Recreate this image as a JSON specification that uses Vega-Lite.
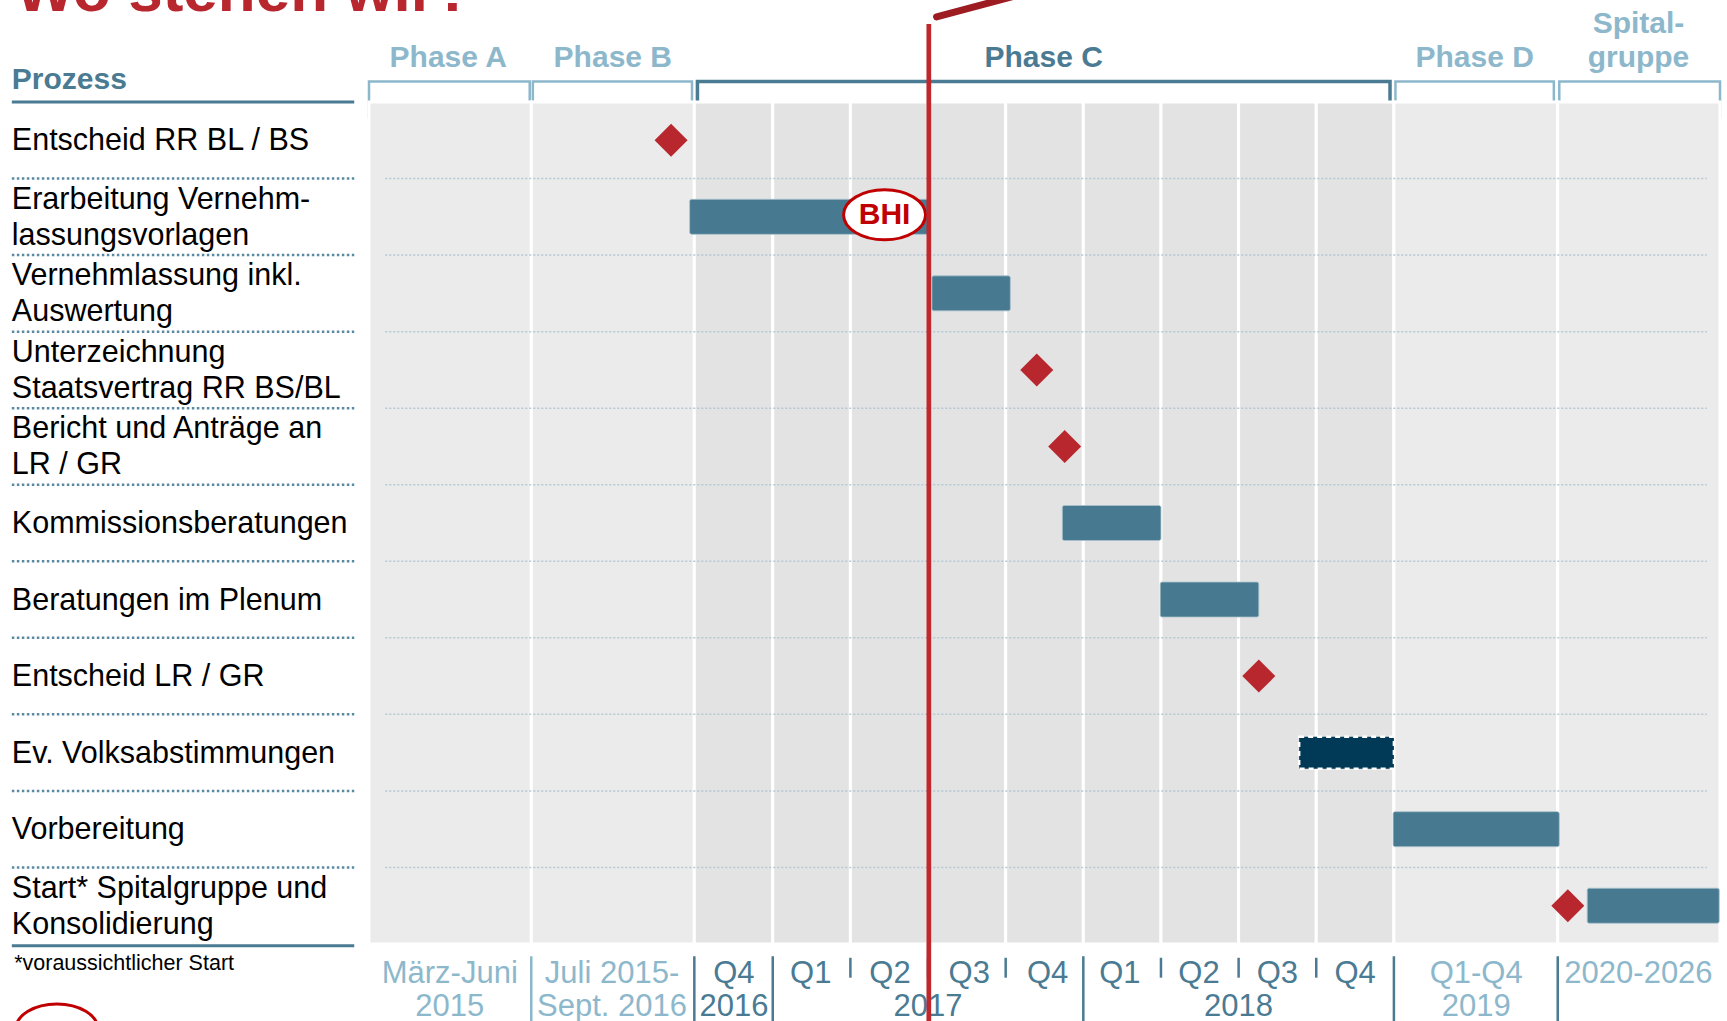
{
  "$schema": "https://vega.github.io/schema/vega-lite/v6.json",
  "width": 1351,
  "height": 842,
  "autosize": {"type": "none"},
  "padding": {"left": 369, "top": 102, "right": 7, "bottom": 77},
  "background": "white",
  "config": {"view": {"stroke": null}, "font": "Liberation Sans"},
  "datasets": {
    "labels": [
      {"row": 0, "task": "Entscheid RR BL / BS"},
      {"row": 1, "task": "Erarbeitung Vernehm-\nlassungsvorlagen"},
      {"row": 2, "task": "Vernehmlassung inkl.\nAuswertung"},
      {"row": 3, "task": "Unterzeichnung\nStaatsvertrag RR BS/BL"},
      {"row": 4, "task": "Bericht und Anträge an\nLR / GR"},
      {"row": 5, "task": "Kommissionsberatungen"},
      {"row": 6, "task": "Beratungen im Plenum"},
      {"row": 7, "task": "Entscheid LR / GR"},
      {"row": 8, "task": "Ev. Volksabstimmungen"},
      {"row": 9, "task": "Vorbereitung"},
      {"row": 10, "task": "Start* Spitalgruppe und\nKonsolidierung"}
    ],
    "items": [
      {"row": 0, "type": "milestone", "start": 3.89},
      {"row": 1, "type": "bar", "start": 4.13, "end": 7.2},
      {"row": 2, "type": "bar", "start": 7.25, "end": 8.26},
      {"row": 3, "type": "milestone", "start": 8.6},
      {"row": 4, "type": "milestone", "start": 8.96},
      {"row": 5, "type": "bar", "start": 8.93, "end": 10.2},
      {"row": 6, "type": "bar", "start": 10.19, "end": 11.46},
      {"row": 7, "type": "milestone", "start": 11.46},
      {"row": 8, "type": "vote", "start": 11.98, "end": 13.2},
      {"row": 9, "type": "bar", "start": 13.19, "end": 15.33},
      {"row": 10, "type": "milestone", "start": 15.44},
      {"row": 10, "type": "bar", "start": 15.69, "end": 17.39}
    ],
    "columns": [
      {"col": "Phase A", "start": 0, "end": 2.09, "shade": "light"},
      {"col": "Phase B", "start": 2.09, "end": 4.19, "shade": "light"},
      {"col": "Q4 2016", "start": 4.19, "end": 5.2, "shade": "dark"},
      {"col": "Q1 2017", "start": 5.2, "end": 6.2, "shade": "dark"},
      {"col": "Q2 2017", "start": 6.2, "end": 7.2, "shade": "dark"},
      {"col": "Q3 2017", "start": 7.2, "end": 8.2, "shade": "dark"},
      {"col": "Q4 2017", "start": 8.2, "end": 9.2, "shade": "dark"},
      {"col": "Q1 2018", "start": 9.2, "end": 10.2, "shade": "dark"},
      {"col": "Q2 2018", "start": 10.2, "end": 11.2, "shade": "dark"},
      {"col": "Q3 2018", "start": 11.2, "end": 12.2, "shade": "dark"},
      {"col": "Q4 2018", "start": 12.2, "end": 13.2, "shade": "dark"},
      {"col": "2019", "start": 13.2, "end": 15.31, "shade": "light"},
      {"col": "2020-2026", "start": 15.31, "end": 17.4, "shade": "light"}
    ],
    "brackets": [
      {"phase": "Phase A", "start": 0.0, "end": 2.07, "grp": "outer"},
      {"phase": "Phase B", "start": 2.11, "end": 4.16, "grp": "outer"},
      {"phase": "Phase C", "start": 4.23, "end": 13.15, "grp": "core"},
      {"phase": "Phase D", "start": 13.22, "end": 15.26, "grp": "outer"},
      {"phase": "Spitalgruppe", "start": 15.33, "end": 17.4, "grp": "outer"}
    ],
    "phases": [
      {"phase": "Phase A", "x": 1.02, "grp": "outer", "lines": 1},
      {"phase": "Phase B", "x": 3.14, "grp": "outer", "lines": 1},
      {"phase": "Phase C", "x": 8.69, "grp": "core", "lines": 1},
      {"phase": "Phase D", "x": 14.24, "grp": "outer", "lines": 1},
      {"phase": "Spital-\ngruppe", "x": 16.35, "grp": "outer", "lines": 2}
    ],
    "ticks": [
      {"x": 1.04, "label": "März-Juni\n2015", "grp": "outer"},
      {"x": 3.13, "label": "Juli 2015-\nSept. 2016", "grp": "outer"},
      {"x": 4.7, "label": "Q4\n2016", "grp": "core"},
      {"x": 5.69, "label": "Q1", "grp": "core"},
      {"x": 6.71, "label": "Q2", "grp": "core"},
      {"x": 7.2, "label": "\n2017", "grp": "core"},
      {"x": 7.73, "label": "Q3", "grp": "core"},
      {"x": 8.74, "label": "Q4", "grp": "core"},
      {"x": 9.67, "label": "Q1", "grp": "core"},
      {"x": 10.69, "label": "Q2", "grp": "core"},
      {"x": 11.2, "label": "\n2018", "grp": "core"},
      {"x": 11.7, "label": "Q3", "grp": "core"},
      {"x": 12.7, "label": "Q4", "grp": "core"},
      {"x": 14.26, "label": "Q1-Q4\n2019", "grp": "outer"},
      {"x": 16.35, "label": "2020-2026", "grp": "outer"}
    ],
    "seps": [
      {"x": 2.09, "len": "full", "grp": "outer"},
      {"x": 4.19, "len": "full", "grp": "core"},
      {"x": 5.2, "len": "full", "grp": "core"},
      {"x": 9.2, "len": "full", "grp": "core"},
      {"x": 13.2, "len": "full", "grp": "core"},
      {"x": 15.31, "len": "full", "grp": "core"},
      {"x": 6.2, "len": "short", "grp": "core"},
      {"x": 7.2, "len": "short", "grp": "core"},
      {"x": 8.2, "len": "short", "grp": "core"},
      {"x": 10.2, "len": "short", "grp": "core"},
      {"x": 11.2, "len": "short", "grp": "core"},
      {"x": 12.2, "len": "short", "grp": "core"}
    ],
    "today": [{"x": 7.21}],
    "notes": [{"row": 1, "x": 6.64, "label": "BHI"}]
  },
  "layer": [
    {
      "data": {"name": "brackets"},
      "mark": {"type": "rect", "filled": false},
      "encoding": {
        "x": {"field": "start", "type": "quantitative", "scale": {"domain": [0, 17.4], "nice": false, "zero": false}, "axis": null},
        "x2": {"field": "end"},
        "y": {"datum": -0.768, "type": "quantitative", "scale": {"domain": [-0.5, 10.5], "nice": false, "zero": false, "reverse": true, "padding": 0}, "axis": null},
        "y2": {"datum": -0.3},
        "color": {"field": "grp", "type": "nominal", "scale": {"domain": ["outer", "core"], "range": ["#8db8cc", "#4a7b93"]}, "legend": null},
        "strokeWidth": {"condition": {"test": "datum.grp === 'core'", "value": 3.5}, "value": 2.5}
      }
    },
    {
      "data": {"name": "columns"},
      "mark": {"type": "rect", "stroke": "white", "strokeWidth": 3},
      "encoding": {
        "x": {"field": "start", "type": "quantitative", "scale": {"domain": [0, 17.4], "nice": false, "zero": false}, "axis": null},
        "x2": {"field": "end"},
        "y": {"datum": -0.5, "type": "quantitative", "scale": {"domain": [-0.5, 10.5], "nice": false, "zero": false, "reverse": true, "padding": 0}, "axis": null},
        "y2": {"datum": 10.5},
        "fill": {"field": "shade", "type": "nominal", "scale": {"domain": ["light", "dark"], "range": ["#ebebeb", "#e3e3e3"]}, "legend": null}
      }
    },
    {
      "data": {"name": "labels"},
      "transform": [{"filter": "datum.row < 10"}],
      "mark": {"type": "rule", "strokeDash": [2, 2], "color": "#b3c8d3", "strokeWidth": 1.5, "yOffset": 38.27},
      "encoding": {
        "x": {"datum": 0.21, "type": "quantitative", "scale": {"domain": [0, 17.4], "nice": false, "zero": false}, "axis": null},
        "x2": {"datum": 17.23},
        "y": {"field": "row", "type": "quantitative", "scale": {"domain": [-0.5, 10.5], "nice": false, "zero": false, "reverse": true, "padding": 0}, "axis": null}
      }
    },
    {
      "data": {"name": "labels"},
      "transform": [{"filter": "datum.row < 10"}],
      "mark": {"type": "rule", "strokeDash": [2.5, 2.5], "color": "#5a8aa1", "strokeWidth": 2.5, "yOffset": 38.27},
      "encoding": {
        "x": {"datum": -4.6, "type": "quantitative", "scale": {"domain": [0, 17.4], "nice": false, "zero": false}, "axis": null},
        "x2": {"datum": -0.19},
        "y": {"field": "row", "type": "quantitative", "scale": {"domain": [-0.5, 10.5], "nice": false, "zero": false, "reverse": true, "padding": 0}, "axis": null}
      }
    },
    {
      "data": {"name": "labels"},
      "transform": [{"filter": "datum.row == 0"}],
      "mark": {"type": "rule", "color": "#4a7b93", "strokeWidth": 3, "yOffset": -38.27},
      "encoding": {
        "x": {"datum": -4.6, "type": "quantitative", "scale": {"domain": [0, 17.4], "nice": false, "zero": false}, "axis": null},
        "x2": {"datum": -0.19},
        "y": {"field": "row", "type": "quantitative", "scale": {"domain": [-0.5, 10.5], "nice": false, "zero": false, "reverse": true, "padding": 0}, "axis": null}
      }
    },
    {
      "data": {"name": "labels"},
      "transform": [{"filter": "datum.row == 10"}],
      "mark": {"type": "rule", "color": "#4a7b93", "strokeWidth": 3, "yOffset": 40},
      "encoding": {
        "x": {"datum": -4.6, "type": "quantitative", "scale": {"domain": [0, 17.4], "nice": false, "zero": false}, "axis": null},
        "x2": {"datum": -0.19},
        "y": {"field": "row", "type": "quantitative", "scale": {"domain": [-0.5, 10.5], "nice": false, "zero": false, "reverse": true, "padding": 0}, "axis": null}
      }
    },
    {
      "data": {"name": "items"},
      "transform": [{"filter": "datum.type === 'bar'"}],
      "mark": {"type": "bar", "orient": "horizontal", "height": 35, "color": "#477a91", "cornerRadius": 2, "stroke": "#a9c1cd", "strokeWidth": 0.8},
      "encoding": {
        "x": {"field": "start", "type": "quantitative", "scale": {"domain": [0, 17.4], "nice": false, "zero": false}, "axis": null},
        "x2": {"field": "end"},
        "y": {"field": "row", "type": "quantitative", "scale": {"domain": [-0.5, 10.5], "nice": false, "zero": false, "reverse": true, "padding": 0}, "axis": null}
      }
    },
    {
      "data": {"name": "items"},
      "transform": [{"filter": "datum.type === 'vote'"}],
      "mark": {"type": "bar", "orient": "horizontal", "height": 32, "fill": "#003a57", "stroke": "white", "strokeWidth": 2.5, "strokeDash": [5, 4]},
      "encoding": {
        "x": {"field": "start", "type": "quantitative", "scale": {"domain": [0, 17.4], "nice": false, "zero": false}, "axis": null},
        "x2": {"field": "end"},
        "y": {"field": "row", "type": "quantitative", "scale": {"domain": [-0.5, 10.5], "nice": false, "zero": false, "reverse": true, "padding": 0}, "axis": null}
      }
    },
    {
      "data": {"name": "items"},
      "transform": [{"filter": "datum.type === 'milestone'"}],
      "mark": {"type": "point", "shape": "diamond", "size": 1089, "filled": true, "color": "#b8262e", "opacity": 1},
      "encoding": {
        "x": {"field": "start", "type": "quantitative", "scale": {"domain": [0, 17.4], "nice": false, "zero": false}, "axis": null},
        "y": {"field": "row", "type": "quantitative", "scale": {"domain": [-0.5, 10.5], "nice": false, "zero": false, "reverse": true, "padding": 0}, "axis": null}
      }
    },
    {
      "data": {"name": "notes"},
      "mark": {"type": "point", "shape": "M-1,0A1,0.61,0,1,1,1,0A1,0.61,0,1,1,-1,0Z", "size": 6724, "filled": true, "fill": "white", "stroke": "#c00000", "strokeWidth": 3, "opacity": 1, "yOffset": -2},
      "encoding": {
        "x": {"field": "x", "type": "quantitative", "scale": {"domain": [0, 17.4], "nice": false, "zero": false}, "axis": null},
        "y": {"field": "row", "type": "quantitative", "scale": {"domain": [-0.5, 10.5], "nice": false, "zero": false, "reverse": true, "padding": 0}, "axis": null}
      }
    },
    {
      "data": {"name": "notes"},
      "mark": {"type": "text", "font": "Liberation Sans", "fontWeight": "bold", "fontSize": 30, "color": "#c00000", "align": "center", "baseline": "middle", "yOffset": -2},
      "encoding": {
        "x": {"field": "x", "type": "quantitative", "scale": {"domain": [0, 17.4], "nice": false, "zero": false}, "axis": null},
        "y": {"field": "row", "type": "quantitative", "scale": {"domain": [-0.5, 10.5], "nice": false, "zero": false, "reverse": true, "padding": 0}, "axis": null},
        "text": {"field": "label", "type": "nominal"}
      }
    },
    {
      "data": {"values": [{}]},
      "mark": {"type": "point", "shape": "M-1,0A1,0.61,0,1,1,1,0A1,0.61,0,1,1,-1,0Z", "size": 6724, "filled": true, "fill": "white", "stroke": "#c00000", "strokeWidth": 3, "opacity": 1},
      "encoding": {
        "x": {"datum": -4.02, "type": "quantitative", "scale": {"domain": [0, 17.4], "nice": false, "zero": false}, "axis": null},
        "y": {"datum": 11.61, "type": "quantitative", "scale": {"domain": [-0.5, 10.5], "nice": false, "zero": false, "reverse": true, "padding": 0}, "axis": null}
      }
    },
    {
      "data": {"name": "labels"},
      "transform": [{"filter": "indexof(datum.task, '\\n') < 0"}],
      "mark": {"type": "text", "font": "Liberation Sans", "fontSize": 30.5, "color": "#000000", "align": "left", "baseline": "middle", "dy": 1},
      "encoding": {
        "x": {"datum": -4.6, "type": "quantitative", "scale": {"domain": [0, 17.4], "nice": false, "zero": false}, "axis": null},
        "y": {"field": "row", "type": "quantitative", "scale": {"domain": [-0.5, 10.5], "nice": false, "zero": false, "reverse": true, "padding": 0}, "axis": null},
        "text": {"field": "task", "type": "nominal"}
      }
    },
    {
      "data": {"name": "labels"},
      "transform": [{"filter": "indexof(datum.task, '\\n') >= 0"}],
      "mark": {"type": "text", "font": "Liberation Sans", "fontSize": 30.5, "color": "#000000", "align": "left", "baseline": "middle", "lineBreak": "\n", "lineHeight": 36, "dy": -17},
      "encoding": {
        "x": {"datum": -4.6, "type": "quantitative", "scale": {"domain": [0, 17.4], "nice": false, "zero": false}, "axis": null},
        "y": {"field": "row", "type": "quantitative", "scale": {"domain": [-0.5, 10.5], "nice": false, "zero": false, "reverse": true, "padding": 0}, "axis": null},
        "text": {"field": "task", "type": "nominal"}
      }
    },
    {
      "data": {"values": [{}]},
      "mark": {"type": "text", "font": "Liberation Sans", "fontSize": 30, "fontWeight": "bold", "color": "#4a7b93", "align": "left", "baseline": "alphabetic"},
      "encoding": {
        "x": {"datum": -4.6, "type": "quantitative", "scale": {"domain": [0, 17.4], "nice": false, "zero": false}, "axis": null},
        "y": {"datum": -0.67, "type": "quantitative", "scale": {"domain": [-0.5, 10.5], "nice": false, "zero": false, "reverse": true, "padding": 0}, "axis": null},
        "text": {"value": "Prozess"}
      }
    },
    {
      "data": {"name": "phases"},
      "transform": [{"filter": "datum.lines == 1"}],
      "mark": {"type": "text", "font": "Liberation Sans", "fontSize": 30, "fontWeight": "bold", "align": "center", "baseline": "bottom"},
      "encoding": {
        "x": {"field": "x", "type": "quantitative", "scale": {"domain": [0, 17.4], "nice": false, "zero": false}, "axis": null},
        "y": {"datum": -0.883, "type": "quantitative", "scale": {"domain": [-0.5, 10.5], "nice": false, "zero": false, "reverse": true, "padding": 0}, "axis": null},
        "text": {"field": "phase", "type": "nominal"},
        "color": {"field": "grp", "type": "nominal", "scale": {"domain": ["outer", "core"], "range": ["#8db8cc", "#4a7b93"]}, "legend": null}
      }
    },
    {
      "data": {"name": "phases"},
      "transform": [{"filter": "datum.lines == 2"}],
      "mark": {"type": "text", "font": "Liberation Sans", "fontSize": 30, "fontWeight": "bold", "align": "center", "baseline": "bottom", "lineBreak": "\n", "lineHeight": 34, "dy": -34},
      "encoding": {
        "x": {"field": "x", "type": "quantitative", "scale": {"domain": [0, 17.4], "nice": false, "zero": false}, "axis": null},
        "y": {"datum": -0.883, "type": "quantitative", "scale": {"domain": [-0.5, 10.5], "nice": false, "zero": false, "reverse": true, "padding": 0}, "axis": null},
        "text": {"field": "phase", "type": "nominal"},
        "color": {"field": "grp", "type": "nominal", "scale": {"domain": ["outer", "core"], "range": ["#8db8cc", "#4a7b93"]}, "legend": null}
      }
    },
    {
      "data": {"name": "ticks"},
      "mark": {"type": "text", "font": "Liberation Sans", "fontSize": 31, "align": "center", "baseline": "alphabetic", "lineBreak": "\n", "lineHeight": 33},
      "encoding": {
        "x": {"field": "x", "type": "quantitative", "scale": {"domain": [0, 17.4], "nice": false, "zero": false}, "axis": null},
        "y": {"datum": 11.01, "type": "quantitative", "scale": {"domain": [-0.5, 10.5], "nice": false, "zero": false, "reverse": true, "padding": 0}, "axis": null},
        "text": {"field": "label", "type": "nominal"},
        "color": {"field": "grp", "type": "nominal", "scale": {"domain": ["outer", "core"], "range": ["#8db8cc", "#4a7b93"]}, "legend": null}
      }
    },
    {
      "data": {"name": "seps"},
      "transform": [{"filter": "datum.len === 'full'"}],
      "mark": {"type": "rule", "strokeWidth": 2.5},
      "encoding": {
        "x": {"field": "x", "type": "quantitative", "scale": {"domain": [0, 17.4], "nice": false, "zero": false}, "axis": null},
        "y": {"datum": 10.66, "type": "quantitative", "scale": {"domain": [-0.5, 10.5], "nice": false, "zero": false, "reverse": true, "padding": 0}, "axis": null},
        "y2": {"datum": 11.7},
        "color": {"field": "grp", "type": "nominal", "scale": {"domain": ["outer", "core"], "range": ["#8db8cc", "#4a7b93"]}, "legend": null}
      }
    },
    {
      "data": {"name": "seps"},
      "transform": [{"filter": "datum.len === 'short'"}],
      "mark": {"type": "rule", "strokeWidth": 2.5},
      "encoding": {
        "x": {"field": "x", "type": "quantitative", "scale": {"domain": [0, 17.4], "nice": false, "zero": false}, "axis": null},
        "y": {"datum": 10.68, "type": "quantitative", "scale": {"domain": [-0.5, 10.5], "nice": false, "zero": false, "reverse": true, "padding": 0}, "axis": null},
        "y2": {"datum": 10.94},
        "color": {"field": "grp", "type": "nominal", "scale": {"domain": ["outer", "core"], "range": ["#8db8cc", "#4a7b93"]}, "legend": null}
      }
    },
    {
      "data": {"name": "today"},
      "mark": {"type": "rule", "color": "#c0272d", "strokeWidth": 4.7},
      "encoding": {
        "x": {"field": "x", "type": "quantitative", "scale": {"domain": [0, 17.4], "nice": false, "zero": false}, "axis": null},
        "y": {"datum": -1.52, "type": "quantitative", "scale": {"domain": [-0.5, 10.5], "nice": false, "zero": false, "reverse": true, "padding": 0}, "axis": null},
        "y2": {"datum": 11.7}
      }
    },
    {
      "data": {"values": [{}]},
      "mark": {"type": "rule", "color": "#9c1c22", "strokeWidth": 7, "strokeCap": "round"},
      "encoding": {
        "x": {"datum": 7.31, "type": "quantitative", "scale": {"domain": [0, 17.4], "nice": false, "zero": false}, "axis": null},
        "x2": {"datum": 8.3},
        "y": {"datum": -1.611, "type": "quantitative", "scale": {"domain": [-0.5, 10.5], "nice": false, "zero": false, "reverse": true, "padding": 0}, "axis": null},
        "y2": {"datum": -1.88}
      }
    },
    {
      "data": {"values": [{}]},
      "mark": {"type": "text", "font": "Liberation Sans", "fontSize": 21.5, "color": "#000000", "align": "left", "baseline": "alphabetic"},
      "encoding": {
        "x": {"datum": -4.57, "type": "quantitative", "scale": {"domain": [0, 17.4], "nice": false, "zero": false}, "axis": null},
        "y": {"datum": 10.84, "type": "quantitative", "scale": {"domain": [-0.5, 10.5], "nice": false, "zero": false, "reverse": true, "padding": 0}, "axis": null},
        "text": {"value": "*voraussichtlicher Start"}
      }
    },
    {
      "data": {"values": [{}]},
      "mark": {"type": "text", "font": "Liberation Sans", "fontSize": 62, "fontWeight": "bold", "color": "#b8262e", "align": "left", "baseline": "alphabetic"},
      "encoding": {
        "x": {"datum": -4.55, "type": "quantitative", "scale": {"domain": [0, 17.4], "nice": false, "zero": false}, "axis": null},
        "y": {"datum": -1.69, "type": "quantitative", "scale": {"domain": [-0.5, 10.5], "nice": false, "zero": false, "reverse": true, "padding": 0}, "axis": null},
        "text": {"value": "Wo stehen wir?"}
      }
    }
  ]
}
